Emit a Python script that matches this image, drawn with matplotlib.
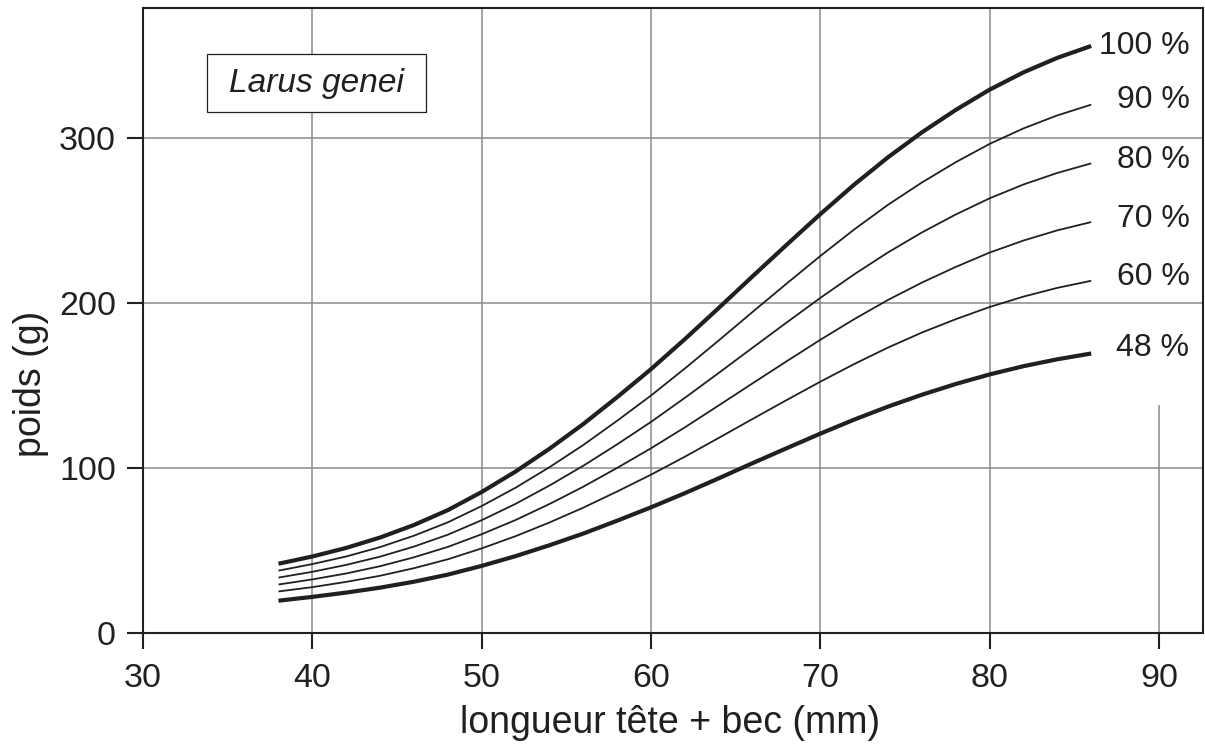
import numpy as np
import matplotlib.pyplot as plt
from matplotlib.patches import Rectangle

plt.rcParams['font.family'] = ['Liberation Sans', 'DejaVu Sans']

# longueur tête + bec (mm)
longueur = [38, 40, 42, 44, 46, 48, 50, 52, 54, 56, 58, 60, 62,
            64, 66, 68, 70, 72, 74, 76, 78, 80, 82, 84, 86]

# poids (g)
p100 = [42.0, 46.4, 51.6, 57.9, 65.5, 74.5, 85.5, 97.9, 111.7, 126.7, 143.0, 160.0, 178.2,
        197.1, 216.3, 235.3, 254.0, 271.9, 288.5, 303.6, 317.2, 329.5, 340.0, 348.8, 356.0]
p90 = [37.8, 41.8, 46.4, 52.1, 59.0, 67.1, 77.0, 88.1, 100.5, 114.0, 128.7, 144.0, 160.4,
       177.4, 194.7, 211.8, 228.6, 244.7, 259.7, 273.2, 285.5, 296.6, 306.0, 313.9, 320.4]
p80 = [33.6, 37.1, 41.3, 46.3, 52.4, 59.6, 68.4, 78.3, 89.4, 101.4, 114.4, 128.0, 142.6,
       157.7, 173.0, 188.2, 203.2, 217.5, 230.8, 242.9, 253.8, 263.6, 272.0, 279.0, 284.8]
p70 = [29.4, 32.5, 36.1, 40.5, 45.9, 52.2, 59.9, 68.5, 78.2, 88.7, 100.1, 112.0, 124.7,
       138.0, 151.4, 164.7, 177.8, 190.3, 202.0, 212.5, 222.0, 230.7, 238.0, 244.2, 249.2]
p60 = [25.2, 27.8, 31.0, 34.7, 39.3, 44.7, 51.3, 58.7, 67.0, 76.0, 85.8, 96.0, 106.9,
       118.3, 129.8, 141.2, 152.4, 163.1, 173.1, 182.2, 190.3, 197.7, 204.0, 209.3, 213.6]
p48 = [19.6, 21.9, 24.5, 27.5, 31.1, 35.4, 40.7, 46.6, 53.2, 60.3, 68.1, 76.2, 84.8,
       93.8, 103.0, 112.0, 120.9, 129.4, 137.3, 144.5, 151.0, 156.8, 161.8, 166.0, 169.5]

courbes = [p100, p90, p80, p70, p60, p48]
etiquettes = ['100 %', '90 %', '80 %', '70 %', '60 %', '48 %']
label_y = [356, 323, 287, 251, 216, 173]

x_ticks = [30, 40, 50, 60, 70, 80, 90]
y_ticks = [0, 100, 200, 300]

noir = '#231f20'
gris = '#8a8a8a'

fig = plt.figure(figsize=(12.05, 7.44), dpi=100)
ax = fig.add_axes([0.1187, 0.1492, 0.8796, 0.8400])
ax.set_xlim(30, 92.6)
ax.set_ylim(0, 379)

# grille (la ligne à 90 est masquée par les étiquettes en haut)
for xv in [40, 50, 60, 70, 80]:
    ax.axvline(xv, color=gris, lw=1.1, zorder=1)
ax.vlines(90, 0, 138, color=gris, lw=1.1, zorder=1)
for yv in [100, 200, 300]:
    ax.axhline(yv, color=gris, lw=1.1, zorder=1)

for y, lab in zip(courbes, etiquettes):
    epais = lab in ('100 %', '48 %')
    ax.plot(longueur, y, color=noir, lw=3.0 if epais else 1.3,
            solid_capstyle='butt', solid_joinstyle='round', zorder=3)

for lab, ly in zip(etiquettes, label_y):
    ax.text(91.8, ly, lab, ha='right', va='center', fontsize=23, color=noir, zorder=4)

# cadre du nom d'espèce
ax.add_patch(Rectangle((33.8, 315.8), 12.9, 35.1, fc='white', ec=noir, lw=0.9, zorder=4))
ax.text(40.25, 333.5, 'Larus genei', style='italic', fontsize=24, color=noir,
        ha='center', va='center', zorder=5)

ax.set_xticks(x_ticks)
ax.set_yticks(y_ticks)
ax.tick_params(direction='out', length=11.5, width=1.5, labelsize=24.5, colors=noir)
ax.tick_params(axis='x', pad=10)
ax.tick_params(axis='y', pad=8)
for s in ax.spines.values():
    s.set_linewidth(1.5)
    s.set_color(noir)

ax.set_xlabel('longueur tête + bec (mm)', fontsize=27, color=noir)
ax.set_ylabel('poids (g)', fontsize=27, color=noir)
ax.xaxis.set_label_coords(0.497, -0.116)
ax.yaxis.set_label_coords(-0.1057, 0.398)
ax.yaxis.label.set_va('center')

plt.savefig('out.png', dpi=100)
